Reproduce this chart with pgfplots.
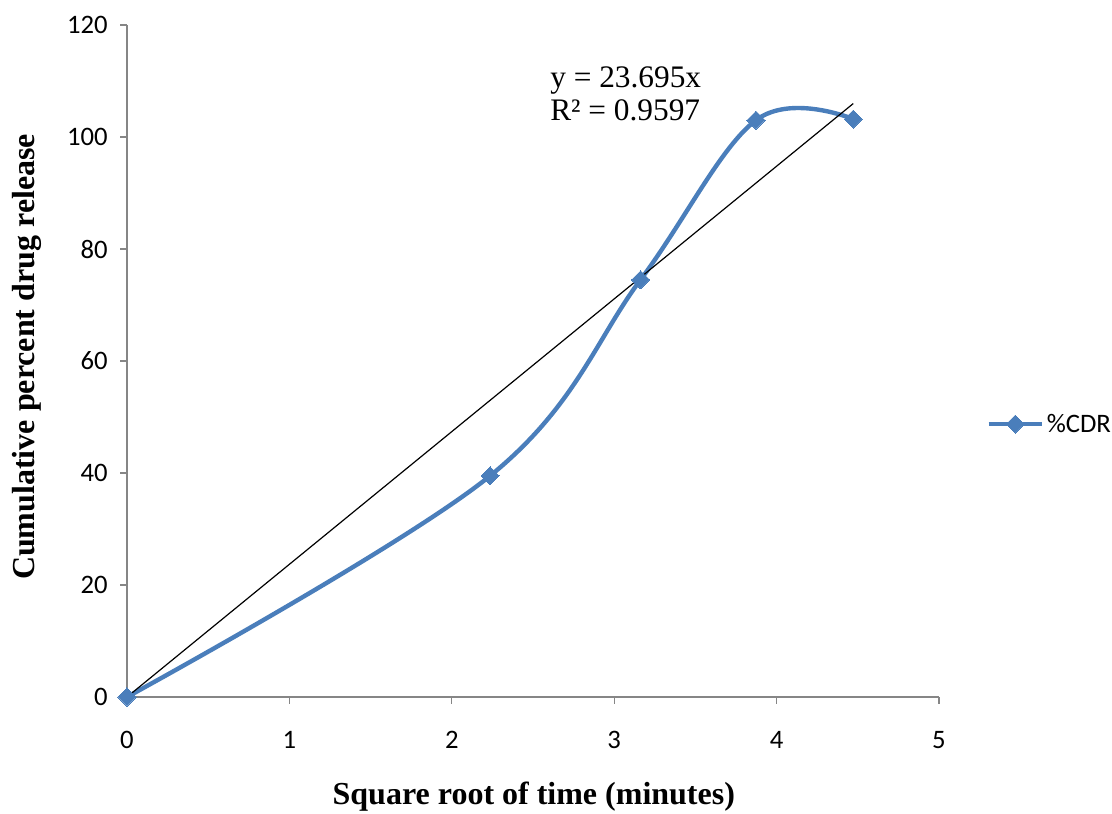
\documentclass[border=0pt]{standalone}
\usepackage{fontspec}
\setmainfont{Liberation Serif}
\newfontfamily\calibri{Carlito}
\usepackage{pgfplots}
\pgfplotsset{compat=1.18}
\definecolor{xlblue}{HTML}{4A7EBB}
\definecolor{axgray}{HTML}{868686}
\begin{document}
\begin{tikzpicture}[x=0.75pt,y=0.75pt]
\begin{axis}[
  at={(0,0)}, anchor=origin,
  scale only axis,
  width=609pt, height=504pt,
  xmin=0, xmax=5, ymin=0, ymax=120,
  xtick={0,1,2,3,4,5}, ytick={0,20,40,60,80,100,120},
  axis lines*=left,
  axis line style={axgray, line width=1pt},
  tick style={axgray, line width=1pt},
  tick align=outside,
  major tick length=5pt,
  /pgf/number format/assume math mode=true,
  tick label style={font=\calibri\fontsize{20}{22}\selectfont, black},
  xticklabel style={yshift=-17pt},
  yticklabel style={xshift=-6pt},
  xlabel={\bfseries Square root of time (minutes)},
  ylabel={\bfseries Cumulative percent drug release},
  label style={font=\fontsize{24}{28}\selectfont},
  xlabel style={at={(axis description cs:0.501,-0.149)}, anchor=center},
  ylabel style={at={(axis description cs:-0.123,0.506)}, anchor=center, rotate=0},
  clip=false,
  legend style={draw=none, at={(axis description cs:1.058,0.406)}, anchor=west,
    font=\calibri\fontsize{20}{22}\selectfont, inner sep=0pt, legend cell align=left},
  legend image code/.code={\draw[mark repeat=2,mark phase=2,#1] plot coordinates {(0pt,0pt)(20pt,0pt)(40pt,0pt)};},
]
\addplot[xlblue, line width=3.3pt, smooth, tension=0.6, mark=square*, mark size=4.8pt,
  mark options={rotate=45, solid, line width=0pt, fill=xlblue}]
  coordinates {(0,0) (2.236,39.5) (3.162,74.5) (3.873,103) (4.472,103.2)};
\addlegendentry{\%CDR}
\addplot[black, line width=0.9pt, forget plot] coordinates {(0,0) (4.472,105.97)};
\node[anchor=base west, inner sep=0pt, font=\fontsize{23.5}{28}\selectfont] at (axis cs:2.605,108.75) {y = 23.695x};
\node[anchor=base west, inner sep=0pt, font=\fontsize{23.5}{28}\selectfont] at (axis cs:2.605,102.86) {R² = 0.9597};
\end{axis}
\pgfresetboundingbox
\useasboundingbox (-127,-116) rectangle (985,697);
\end{tikzpicture}
\end{document}
